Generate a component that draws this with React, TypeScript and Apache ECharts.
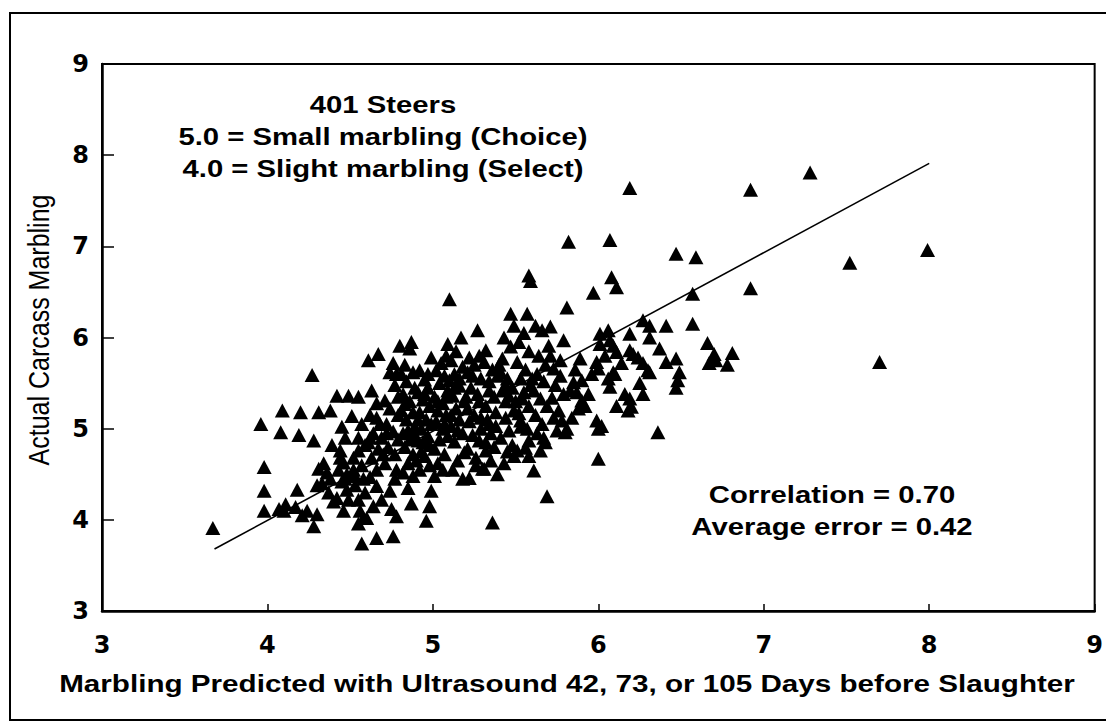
import React, { useEffect, useRef } from "react";
import * as echarts from "echarts";

// Predicted marbling (ultrasound) vs actual carcass marbling
const steers: [number, number][] = [
  [3.67, 3.91],
  [3.96, 5.05], [3.98, 4.58], [3.98, 4.32], [3.98, 4.10],
  [4.09, 5.20], [4.08, 4.96], [4.07, 4.12], [4.11, 4.17], [4.10, 4.10],
  [4.20, 5.18], [4.19, 4.93], [4.18, 4.33], [4.17, 4.14], [4.21, 4.05],
  [4.27, 5.59], [4.31, 5.18], [4.28, 4.87], [4.31, 4.56], [4.30, 4.38], [4.30, 4.06], [4.28, 3.93], [4.24, 4.10],
  [4.38, 5.20], [4.39, 4.82], [4.36, 4.52], [4.38, 4.45], [4.37, 4.30], [4.40, 4.20], [4.34, 4.62], [4.33, 4.40],
  [4.42, 5.36], [4.49, 5.36], [4.45, 5.02], [4.47, 4.90], [4.44, 4.76], [4.46, 4.63], [4.48, 4.50], [4.45, 4.42],
  [4.48, 4.33], [4.42, 4.24], [4.49, 4.22], [4.46, 4.10], [4.43, 4.55], [4.47, 4.45], [4.44, 4.68],
  [4.51, 5.14], [4.55, 5.35], [4.57, 5.05], [4.55, 4.90], [4.55, 4.76], [4.52, 4.55], [4.57, 4.60], [4.58, 4.45],
  [4.53, 4.38], [4.59, 4.30], [4.55, 4.22], [4.56, 4.10], [4.58, 4.02], [4.55, 3.96], [4.57, 3.74], [4.52, 4.68],
  [4.59, 4.82], [4.53, 4.48],
  [4.61, 5.75], [4.67, 5.82], [4.63, 5.42], [4.66, 5.28], [4.62, 5.15], [4.68, 5.05], [4.64, 4.95], [4.61, 4.85],
  [4.67, 4.78], [4.63, 4.68], [4.66, 4.55], [4.62, 4.47], [4.66, 4.37], [4.69, 4.22], [4.60, 4.02], [4.66, 3.80],
  [4.64, 4.15], [4.69, 4.90], [4.66, 5.12], [4.62, 4.90],
  [4.80, 5.91], [4.76, 5.72], [4.78, 5.60], [4.77, 5.48], [4.71, 5.31], [4.74, 5.22], [4.79, 5.15], [4.72, 5.05],
  [4.76, 4.97], [4.79, 4.88], [4.73, 4.80], [4.77, 4.72], [4.71, 4.62], [4.78, 4.55], [4.77, 4.45], [4.74, 4.32],
  [4.75, 4.12], [4.78, 4.04], [4.76, 3.82], [4.72, 4.95], [4.79, 5.35], [4.74, 5.62], [4.70, 4.72],
  [4.87, 5.95], [4.86, 5.88], [4.83, 5.70], [4.88, 5.62], [4.84, 5.52], [4.89, 5.45], [4.82, 5.38], [4.86, 5.30],
  [4.81, 5.20], [4.88, 5.18], [4.84, 5.10], [4.89, 5.02], [4.82, 4.95], [4.86, 4.88], [4.83, 4.80], [4.88, 4.72],
  [4.85, 4.62], [4.82, 4.52], [4.88, 4.48], [4.87, 4.18], [4.85, 4.35], [4.81, 5.60], [4.89, 4.92], [4.83, 5.27],
  [4.85, 4.98],
  [4.99, 5.78], [4.92, 5.64], [4.95, 5.54], [4.97, 5.45], [4.91, 5.40], [4.94, 5.32], [4.98, 5.25], [4.92, 5.18],
  [4.96, 5.10], [4.99, 5.05], [4.93, 5.00], [4.97, 4.92], [4.91, 4.87], [4.98, 4.82], [4.95, 4.70], [4.98, 4.60],
  [4.92, 4.55], [4.99, 4.32], [4.98, 4.15], [4.96, 3.99], [4.94, 4.85], [4.97, 5.60], [4.93, 4.75], [4.91, 5.10],
  [4.95, 5.38], [4.90, 4.65],
  [5.10, 6.42], [5.09, 5.93], [5.08, 5.80], [5.02, 5.64], [5.07, 5.58], [5.04, 5.50], [5.09, 5.42], [5.01, 5.35],
  [5.06, 5.28], [5.03, 5.20], [5.08, 5.15], [5.02, 5.08], [5.06, 5.00], [5.09, 4.92], [5.04, 4.88], [5.01, 4.78],
  [5.07, 4.72], [5.03, 4.62], [5.01, 4.48], [5.06, 4.55], [5.08, 5.35], [5.05, 5.72], [5.03, 5.30], [5.07, 5.05],
  [5.17, 6.00], [5.14, 5.85], [5.11, 5.75], [5.18, 5.68], [5.13, 5.60], [5.10, 5.53], [5.16, 5.47], [5.12, 5.36],
  [5.19, 5.30], [5.14, 5.22], [5.16, 5.10], [5.11, 5.03], [5.18, 4.95], [5.13, 4.86], [5.19, 4.74], [5.15, 4.65],
  [5.12, 4.55], [5.18, 4.45], [5.16, 5.55], [5.11, 5.15], [5.13, 5.45], [5.15, 4.98],
  [5.27, 6.08], [5.22, 5.78], [5.28, 5.80], [5.25, 5.70], [5.21, 5.62], [5.29, 5.55], [5.23, 5.45], [5.27, 5.38],
  [5.28, 5.30], [5.21, 5.22], [5.25, 5.15], [5.22, 5.08], [5.29, 5.00], [5.24, 4.93], [5.28, 4.87], [5.21, 4.78],
  [5.26, 4.68], [5.30, 4.56], [5.22, 4.46], [5.26, 4.60], [5.20, 5.35], [5.24, 5.58], [5.29, 5.12],
  [5.32, 5.86], [5.31, 5.73], [5.36, 5.65], [5.39, 5.58], [5.34, 5.42], [5.37, 5.35], [5.32, 5.25], [5.38, 5.18],
  [5.38, 5.03], [5.33, 5.10], [5.35, 4.95], [5.32, 4.85], [5.37, 4.80], [5.32, 4.76], [5.31, 4.56], [5.35, 4.65],
  [5.36, 3.97], [5.39, 4.50], [5.34, 5.52], [5.34, 5.05],
  [5.47, 6.26], [5.49, 6.13], [5.43, 6.00], [5.47, 5.90], [5.42, 5.77], [5.41, 5.62], [5.45, 5.55], [5.42, 5.42],
  [5.46, 5.36], [5.49, 5.20], [5.44, 5.12], [5.46, 4.98], [5.41, 4.90], [5.48, 4.82], [5.49, 4.70], [5.43, 4.62],
  [5.45, 4.75], [5.48, 5.45], [5.44, 5.30], [5.40, 5.70], [5.44, 5.48],
  [5.57, 6.26], [5.58, 6.68], [5.59, 6.62], [5.55, 6.05], [5.52, 5.95], [5.58, 5.85], [5.51, 5.73], [5.56, 5.65],
  [5.53, 5.55], [5.59, 5.48], [5.54, 5.33], [5.58, 5.25], [5.52, 5.17], [5.53, 5.09], [5.57, 5.00], [5.58, 4.87],
  [5.51, 4.76], [5.56, 4.79], [5.58, 4.70], [5.55, 5.40], [5.50, 5.30], [5.53, 5.02],
  [5.62, 6.13], [5.66, 6.08], [5.70, 5.91], [5.64, 5.80], [5.68, 5.70], [5.63, 5.60], [5.67, 5.52], [5.61, 5.42],
  [5.65, 5.33], [5.69, 5.25], [5.62, 5.15], [5.66, 5.05], [5.67, 4.90], [5.68, 4.85], [5.65, 4.76], [5.61, 4.54],
  [5.69, 4.26], [5.63, 4.95], [5.60, 5.55],
  [5.82, 7.05], [5.81, 6.33], [5.71, 6.12], [5.79, 5.97], [5.71, 5.80], [5.77, 5.75], [5.73, 5.66], [5.77, 5.58],
  [5.74, 5.48], [5.79, 5.38], [5.72, 5.34], [5.76, 5.20], [5.78, 5.09], [5.75, 4.98], [5.80, 4.96], [5.73, 5.12],
  [5.89, 5.77], [5.86, 5.65], [5.85, 5.51], [5.90, 5.53], [5.83, 5.42], [5.90, 5.31], [5.88, 5.22], [5.84, 5.12],
  [5.81, 5.00], [5.87, 5.40],
  [5.97, 6.49], [5.99, 5.73], [6.00, 5.66], [5.94, 5.38], [5.96, 5.60], [5.99, 5.09], [6.00, 5.00], [6.00, 4.67],
  [5.92, 5.25],
  [6.07, 7.07], [6.08, 6.66], [6.01, 6.04], [6.06, 6.08], [6.01, 5.93], [6.09, 5.91], [6.07, 5.97], [6.09, 5.62],
  [6.06, 5.55], [6.07, 5.46], [6.02, 5.03], [6.04, 5.80],
  [6.19, 7.64], [6.11, 6.55], [6.11, 5.84], [6.19, 6.04], [6.19, 5.86], [6.10, 5.60], [6.16, 5.38], [6.19, 5.33],
  [6.11, 5.25], [6.18, 5.20], [6.14, 5.72],
  [6.27, 6.19], [6.24, 5.78], [6.27, 5.72], [6.27, 5.38], [6.20, 5.24], [6.21, 5.82], [6.30, 5.64], [6.25, 5.50],
  [6.31, 6.13], [6.31, 6.00], [6.37, 5.88], [6.31, 5.62], [6.36, 4.96],
  [6.47, 6.92], [6.41, 6.13], [6.41, 5.73], [6.47, 5.77], [6.49, 5.62], [6.48, 5.53], [6.47, 5.45],
  [6.59, 6.88], [6.57, 6.48], [6.57, 6.15],
  [6.66, 5.94], [6.70, 5.82], [6.81, 5.83], [6.67, 5.72], [6.71, 5.75], [6.78, 5.70],
  [6.92, 7.62], [7.28, 7.81], [6.92, 6.54], [7.52, 6.82], [7.99, 6.96], [7.70, 5.73],
];

// Regression line end points
const fitLine: [number, number][] = [
  [3.68, 3.68],
  [8.0, 7.91],
];

const axisMin = 3;
const axisMax = 9;
const tickStep = 1;

const noteLines = ["401 Steers", "5.0 = Small marbling (Choice)", "4.0 = Slight marbling (Select)"];
const statLines = ["Correlation = 0.70", "Average error = 0.42"];
const xTitle = "Marbling Predicted with Ultrasound 42, 73, or 105 Days before Slaughter";
const yTitle = "Actual Carcass Marbling";

const FONT_FAMILY = '"Liberation Sans", Arial, Helvetica, sans-serif';
const TICK_FONT_FAMILY = '"DejaVu Sans", "Liberation Sans", Arial, sans-serif';
const BOLD_FONT = `bold 24px ${FONT_FAMILY}`;

export default function App() {
  const ref = useRef<HTMLDivElement>(null);

  useEffect(() => {
    if (!ref.current) return;
    const chart = echarts.init(ref.current, undefined, { renderer: "svg" });

    const labelStyle = {
      color: "#000",
      fontFamily: TICK_FONT_FAMILY,
      fontWeight: "bold" as const,
      fontSize: 24,
    };

    const noteY = [105, 137, 169];
    const statY = [495, 527];

    chart.setOption({
      animation: false,
      backgroundColor: "#fff",
      grid: {
        left: 102,
        right: 8,
        top: 64,
        bottom: 112,
        show: true,
        borderColor: "#000",
        borderWidth: 2,
        backgroundColor: "transparent",
      },
      xAxis: {
        type: "value",
        min: axisMin,
        max: axisMax,
        interval: tickStep,
        axisLine: { show: true, onZero: false, lineStyle: { color: "#000", width: 2.5 } },
        axisTick: { show: true, inside: true, length: 7, lineStyle: { color: "#000", width: 1.5 } },
        axisLabel: { ...labelStyle, margin: 22, showMinLabel: true, showMaxLabel: true },
        splitLine: { show: false },
      },
      yAxis: {
        type: "value",
        min: axisMin,
        max: axisMax,
        interval: tickStep,
        axisLine: { show: true, onZero: false, lineStyle: { color: "#000", width: 2.5 } },
        axisTick: { show: true, inside: true, length: 12, lineStyle: { color: "#000", width: 1.5 } },
        axisLabel: { ...labelStyle, margin: 13, showMinLabel: true, showMaxLabel: true },
        splitLine: { show: false },
      },
      series: [
        {
          type: "line",
          data: fitLine,
          symbol: "none",
          lineStyle: { color: "#000", width: 1.6 },
          z: 2,
          silent: true,
        },
        {
          type: "scatter",
          data: steers,
          symbol: "triangle",
          symbolSize: [15, 14],
          itemStyle: { color: "#000", opacity: 1 },
          z: 3,
          silent: true,
        },
      ],
      graphic: [
        {
          type: "rect",
          silent: true,
          z: -1,
          shape: { x: 10, y: 13, width: 1120, height: 707 },
          style: { fill: "none", stroke: "#000", lineWidth: 2 },
        },
        ...noteLines.map((t, i) => ({
          type: "text",
          x: 383,
          y: noteY[i],
          scaleX: 1.22,
          silent: true,
          style: { text: t, font: BOLD_FONT, fill: "#000", align: "center", verticalAlign: "middle" },
        })),
        ...statLines.map((t, i) => ({
          type: "text",
          x: 832,
          y: statY[i],
          scaleX: 1.22,
          silent: true,
          style: { text: t, font: BOLD_FONT, fill: "#000", align: "center", verticalAlign: "middle" },
        })),
        {
          type: "text",
          x: 567,
          y: 684,
          scaleX: 1.235,
          silent: true,
          style: { text: xTitle, font: BOLD_FONT, fill: "#000", align: "center", verticalAlign: "middle" },
        },
        {
          type: "text",
          x: 39,
          y: 330,
          rotation: Math.PI / 2,
          scaleY: 1.15,
          silent: true,
          style: {
            text: yTitle,
            font: `25px ${FONT_FAMILY}`,
            fill: "#000",
            align: "center",
            verticalAlign: "middle",
          },
        },
      ],
    });

    return () => {
      chart.dispose();
    };
  }, []);

  return (
    <div
      ref={ref}
      style={{ position: "fixed", left: 0, top: 0, width: 1106, height: 723, background: "#fff" }}
    />
  );
}
